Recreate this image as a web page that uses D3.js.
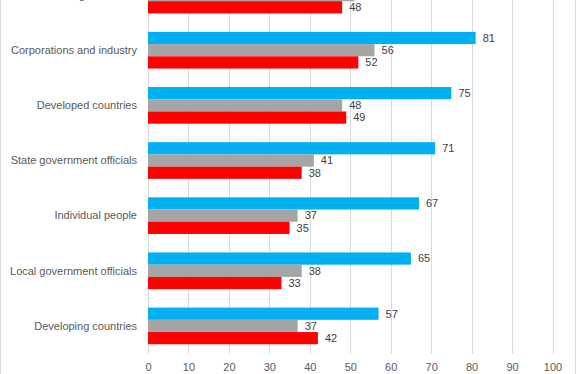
<!DOCTYPE html>
<html>
<head>
<meta charset="utf-8">
<script src="https://cdn.jsdelivr.net/npm/d3@7"></script>
<style>
  body { margin: 0; background: #fff; }
  svg { display: block; font-family: "Liberation Sans", Arial, sans-serif; }
</style>
</head>
<body>
<div class="content"></div>
<script>
var categories = ["U.S. government", "Corporations and industry", "Developed countries",
                  "State government officials", "Individual people",
                  "Local government officials", "Developing countries"];
var seriesNames = ["Series 1", "Series 2", "Series 3"];
var series1 = [83, 81, 75, 71, 67, 65, 57];
var series2 = [51, 56, 48, 41, 37, 38, 37];
var series3 = [48, 52, 49, 38, 35, 33, 42];
var xTicks = [0, 10, 20, 30, 40, 50, 60, 70, 80, 90, 100];
var colors = ["#00b0f0", "#a5a5a5", "#ff0000"];

var width = 576, height = 374;
var svg = d3.select(".content").append("svg")
   .attr("width", width)
   .attr("height", height);

// the chart is cut at the top, so the plot area starts above the view
var x = d3.scaleLinear().domain([0, 100]).range([148, 552.5]);
var y = d3.scaleBand().domain(categories).range([-32.5, 353.5])
   .paddingInner(0.335).paddingOuter(0.1675);
var ySub = d3.scaleBand().domain(seriesNames).range([0, y.bandwidth()]);

var rows = categories.map(function(c, i) {
   return { name: c, values: [series1[i], series2[i], series3[i]] };
});

// outer border
svg.append("line").attr("x1", 0.5).attr("x2", 0.5).attr("y1", 0).attr("y2", height)
   .attr("stroke", "#d9d9d9");
svg.append("line").attr("x1", 575.5).attr("x2", 575.5).attr("y1", 0).attr("y2", height)
   .attr("stroke", "#d9d9d9");

// gridlines
svg.append("g")
   .selectAll("line")
   .data(xTicks)
   .enter().append("line")
   .attr("x1", function(d) { return Math.round(x(d)) + 0.5; })
   .attr("x2", function(d) { return Math.round(x(d)) + 0.5; })
   .attr("y1", -32.5)
   .attr("y2", 353.5)
   .attr("stroke", "#d9d9d9");

// x axis labels
var xAxis = d3.axisBottom(x).tickValues(xTicks).tickSize(0).tickPadding(0);
var gx = svg.append("g").attr("transform", "translate(0,363)").call(xAxis);
gx.select(".domain").remove();
gx.selectAll("text")
   .attr("fill", "#595959")
   .attr("font-size", "11px")
   .attr("font-family", "Liberation Sans, Arial, sans-serif")
   .attr("dy", "0.71em");

// category labels
svg.append("g")
   .selectAll("text")
   .data(categories)
   .enter().append("text")
   .attr("x", 137)
   .attr("y", function(d) { return y(d) + y.bandwidth() / 2; })
   .attr("dy", "0.35em")
   .attr("text-anchor", "end")
   .attr("fill", "#595959")
   .attr("font-size", "11px")
   .text(function(d) { return d; });

// bars
var groups = svg.append("g")
   .selectAll("g")
   .data(rows)
   .enter().append("g")
   .attr("transform", function(d) { return "translate(0," + y(d.name) + ")"; });

groups.selectAll("rect")
   .data(function(d) { return d.values; })
   .enter().append("rect")
   .attr("x", x(0))
   .attr("y", function(d, i) { return ySub(seriesNames[i]); })
   .attr("width", function(d) { return x(d) - x(0); })
   .attr("height", ySub.bandwidth())
   .attr("fill", function(d, i) { return colors[i]; });

groups.selectAll("text")
   .data(function(d) { return d.values; })
   .enter().append("text")
   .attr("x", function(d) { return x(d) + 7; })
   .attr("y", function(d, i) { return ySub(seriesNames[i]) + ySub.bandwidth() / 2; })
   .attr("dy", "0.35em")
   .attr("fill", "#404040")
   .attr("font-size", "11px")
   .text(function(d) { return d; });
</script>
</body>
</html>
